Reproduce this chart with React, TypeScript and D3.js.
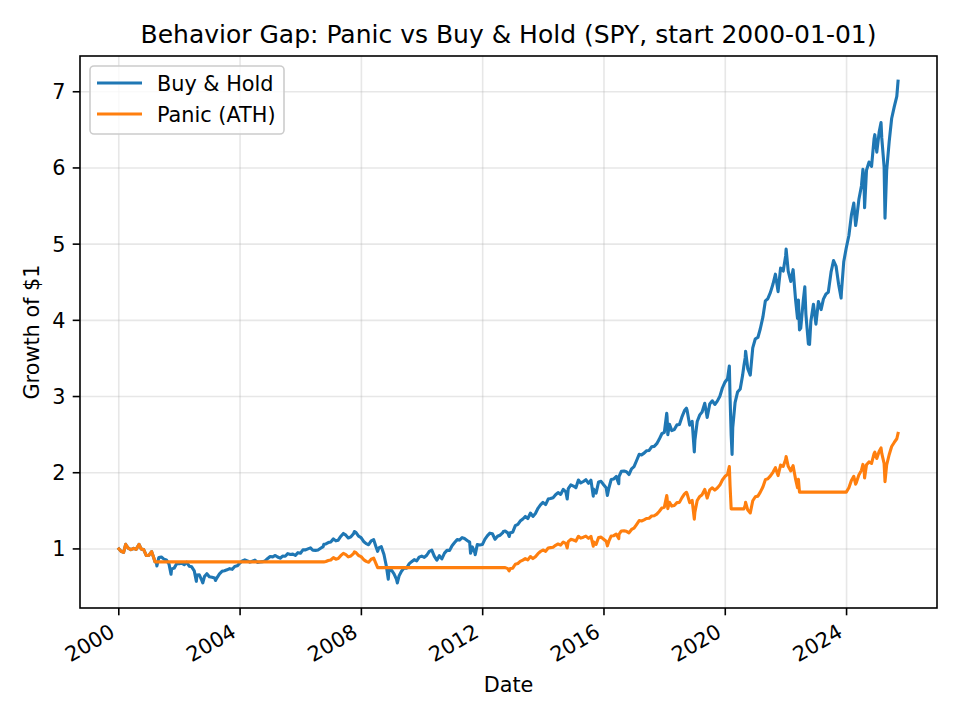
import * as d3 from "d3";

const WIDTH = 960;
const HEIGHT = 720;

// Trading dates (month ends plus a few turning points)
const dates = [
  // 2000
  "2000-01-03", "2000-01-28", "2000-02-28", "2000-03-24", "2000-03-31", "2000-04-28", "2000-05-26", "2000-06-28", "2000-07-28", "2000-09-01", "2000-09-28", "2000-10-27", "2000-11-28", "2000-12-28",
  // 2001
  "2001-01-30", "2001-02-27", "2001-03-12", "2001-03-28", "2001-04-04", "2001-04-27", "2001-05-28", "2001-06-28", "2001-07-27", "2001-08-28", "2001-09-21", "2001-09-28", "2001-10-29", "2001-11-28", "2001-12-28",
  // 2002
  "2002-01-28", "2002-02-28", "2002-03-28", "2002-04-29", "2002-05-28", "2002-06-28", "2002-07-23", "2002-07-30", "2002-08-28", "2002-09-27", "2002-10-09", "2002-10-29", "2002-11-27", "2002-12-27",
  // 2003
  "2003-01-28", "2003-02-28", "2003-03-11", "2003-03-28", "2003-04-28", "2003-05-28", "2003-06-27", "2003-07-28", "2003-08-28", "2003-09-29", "2003-10-28", "2003-11-28", "2003-12-29",
  // 2004
  "2004-01-28", "2004-02-27", "2004-03-29", "2004-04-28", "2004-05-28", "2004-06-28", "2004-07-28", "2004-08-27", "2004-09-28", "2004-10-28", "2004-11-29", "2004-12-28",
  // 2005
  "2005-01-28", "2005-02-28", "2005-03-28", "2005-04-28", "2005-05-27", "2005-06-28", "2005-07-28", "2005-08-29", "2005-09-28", "2005-10-28", "2005-11-28", "2005-12-28",
  // 2006
  "2006-01-27", "2006-02-28", "2006-03-28", "2006-04-28", "2006-05-26", "2006-06-28", "2006-07-28", "2006-08-28", "2006-09-28", "2006-10-05", "2006-10-30", "2006-11-28", "2006-12-28",
  // 2007
  "2007-01-29", "2007-02-28", "2007-03-28", "2007-04-27", "2007-05-29", "2007-06-28", "2007-07-27", "2007-08-28", "2007-09-28", "2007-10-09", "2007-10-29", "2007-11-28", "2007-12-28",
  // 2008
  "2008-01-28", "2008-02-28", "2008-03-28", "2008-04-28", "2008-05-28", "2008-06-27", "2008-07-15", "2008-07-28", "2008-08-28", "2008-09-29", "2008-10-28", "2008-11-20", "2008-11-28", "2008-12-29",
  // 2009
  "2009-01-28", "2009-02-27", "2009-03-09", "2009-03-30", "2009-04-28", "2009-05-28", "2009-06-29", "2009-07-28", "2009-08-28", "2009-09-28", "2009-10-28", "2009-11-27", "2009-12-28",
  // 2010
  "2010-01-28", "2010-02-26", "2010-03-29", "2010-04-28", "2010-05-28", "2010-06-28", "2010-07-28", "2010-08-27", "2010-09-28", "2010-10-28", "2010-11-29", "2010-12-28",
  // 2011
  "2011-01-28", "2011-02-28", "2011-03-28", "2011-04-28", "2011-05-27", "2011-06-28", "2011-07-28", "2011-08-08", "2011-08-29", "2011-09-28", "2011-10-03", "2011-10-28", "2011-11-28", "2011-12-28",
  // 2012
  "2012-01-27", "2012-02-28", "2012-03-28", "2012-04-27", "2012-05-29", "2012-06-28", "2012-07-27", "2012-08-28", "2012-09-06", "2012-09-28", "2012-10-29", "2012-11-15", "2012-11-28", "2012-12-28",
  // 2013
  "2013-01-28", "2013-02-28", "2013-03-28", "2013-04-29", "2013-05-28", "2013-06-28", "2013-07-29", "2013-08-28", "2013-09-27", "2013-10-28", "2013-11-27", "2013-12-27",
  // 2014
  "2014-01-28", "2014-02-28", "2014-03-28", "2014-04-28", "2014-05-28", "2014-06-27", "2014-07-28", "2014-08-28", "2014-09-29", "2014-10-15", "2014-10-28", "2014-11-28", "2014-12-29",
  // 2015
  "2015-01-28", "2015-02-27", "2015-03-27", "2015-04-28", "2015-05-28", "2015-06-29", "2015-07-28", "2015-08-25", "2015-08-28", "2015-09-28", "2015-10-28", "2015-11-27", "2015-12-28",
  // 2016
  "2016-01-28", "2016-02-11", "2016-02-29", "2016-03-28", "2016-04-28", "2016-05-27", "2016-06-27", "2016-06-30", "2016-07-28", "2016-08-29", "2016-09-28", "2016-10-28", "2016-11-28", "2016-12-28",
  // 2017
  "2017-01-27", "2017-02-28", "2017-03-28", "2017-04-28", "2017-05-26", "2017-06-28", "2017-07-28", "2017-08-28", "2017-09-28", "2017-10-27", "2017-11-28", "2017-12-28",
  // 2018
  "2018-01-26", "2018-01-30", "2018-02-08", "2018-02-28", "2018-03-28", "2018-04-27", "2018-05-29", "2018-06-28", "2018-07-27", "2018-08-28", "2018-09-20", "2018-09-28", "2018-10-29", "2018-11-28", "2018-12-24", "2018-12-31",
  // 2019
  "2019-01-28", "2019-02-28", "2019-03-28", "2019-04-29", "2019-05-28", "2019-06-28", "2019-07-29", "2019-08-28", "2019-09-27", "2019-10-28", "2019-11-27", "2019-12-27",
  // 2020
  "2020-01-28", "2020-02-19", "2020-02-28", "2020-03-12", "2020-03-23", "2020-03-31", "2020-04-28", "2020-05-28", "2020-06-29", "2020-07-28", "2020-08-12", "2020-08-28", "2020-09-02", "2020-09-28", "2020-10-28", "2020-11-27", "2020-12-28",
  // 2021
  "2021-01-28", "2021-02-26", "2021-03-29", "2021-04-28", "2021-05-28", "2021-06-28", "2021-07-28", "2021-08-27", "2021-09-28", "2021-10-28", "2021-11-29", "2021-12-28",
  // 2022
  "2022-01-03", "2022-01-28", "2022-02-28", "2022-03-28", "2022-04-28", "2022-05-20", "2022-05-31", "2022-06-13", "2022-06-28", "2022-07-28", "2022-08-16", "2022-08-29", "2022-09-28", "2022-10-12", "2022-10-28", "2022-11-28", "2022-12-28",
  // 2023
  "2023-01-27", "2023-02-28", "2023-03-28", "2023-04-28", "2023-05-26", "2023-06-28", "2023-07-28", "2023-08-28", "2023-09-28", "2023-10-27", "2023-10-31", "2023-11-28", "2023-12-28",
  // 2024
  "2024-01-29", "2024-02-28", "2024-03-28", "2024-04-19", "2024-04-29", "2024-05-28", "2024-06-28", "2024-07-16", "2024-07-29", "2024-08-05", "2024-08-28", "2024-09-27", "2024-10-28", "2024-11-27", "2024-12-06", "2024-12-30",
  // 2025
  "2025-01-28", "2025-02-19", "2025-02-28", "2025-03-28", "2025-04-08", "2025-04-28", "2025-05-28", "2025-06-27", "2025-07-28", "2025-08-28", "2025-09-12",
];

// Growth of $1, buy & hold
const buyHold = [
  1.0, 0.969, 0.954, 1.061, 1.044, 1.007, 0.991, 1.008, 0.994, 1.06, 0.997, 0.992, 0.913, 0.916,
  0.965, 0.878, 0.83, 0.824, 0.777, 0.886, 0.893, 0.866, 0.856, 0.801, 0.668, 0.737, 0.748, 0.806, 0.807,
  0.813, 0.792, 0.825, 0.774, 0.765, 0.712, 0.575, 0.658, 0.659, 0.588, 0.555, 0.637, 0.675, 0.634,
  0.629, 0.619, 0.586, 0.62, 0.673, 0.706, 0.714, 0.726, 0.741, 0.732, 0.769, 0.778, 0.815,
  0.843, 0.857, 0.843, 0.826, 0.839, 0.853, 0.824, 0.828, 0.833, 0.842, 0.875, 0.901,
  0.896, 0.914, 0.894, 0.878, 0.906, 0.904, 0.938, 0.926, 0.932, 0.916, 0.951, 0.944,
  0.987, 0.988, 1.001, 1.014, 0.983, 0.981, 0.986, 1.008, 1.03, 1.06, 1.066, 1.083, 1.092,
  1.132, 1.106, 1.115, 1.164, 1.203, 1.181, 1.144, 1.159, 1.198, 1.229, 1.214, 1.167, 1.148,
  1.098, 1.069, 1.055, 1.105, 1.121, 1.022, 0.968, 1.013, 1.029, 0.927, 0.773, 0.602, 0.716, 0.721,
  0.673, 0.601, 0.554, 0.646, 0.707, 0.748, 0.748, 0.803, 0.833, 0.859, 0.842, 0.893, 0.906,
  0.889, 0.917, 0.969, 0.984, 0.906, 0.852, 0.911, 0.869, 0.945, 0.981, 0.981, 1.042,
  1.084, 1.122, 1.116, 1.148, 1.136, 1.111, 1.089, 0.943, 1.026, 0.953, 0.925, 1.057, 1.052, 1.057,
  1.125, 1.174, 1.207, 1.199, 1.127, 1.166, 1.18, 1.21, 1.229, 1.234, 1.211, 1.163, 1.213, 1.22,
  1.305, 1.322, 1.366, 1.393, 1.426, 1.399, 1.471, 1.427, 1.465, 1.533, 1.578, 1.611,
  1.582, 1.654, 1.661, 1.672, 1.711, 1.74, 1.715, 1.782, 1.749, 1.655, 1.791, 1.84, 1.825,
  1.803, 1.905, 1.866, 1.885, 1.908, 1.861, 1.903, 1.693, 1.787, 1.732, 1.879, 1.887, 1.843,
  1.801, 1.701, 1.8, 1.911, 1.919, 1.951, 1.856, 1.948, 2.019, 2.022, 2.012, 1.977, 2.05, 2.079,
  2.157, 2.242, 2.234, 2.257, 2.288, 2.292, 2.34, 2.346, 2.381, 2.438, 2.512, 2.53,
  2.78, 2.734, 2.499, 2.635, 2.553, 2.566, 2.628, 2.632, 2.729, 2.816, 2.848, 2.82, 2.625, 2.674, 2.273, 2.424,
  2.672, 2.759, 2.797, 2.911, 2.725, 2.901, 2.944, 2.896, 2.94, 3.003, 3.112, 3.187,
  3.233, 3.4, 2.978, 2.493, 2.241, 2.591, 2.92, 3.058, 3.099, 3.281, 3.4, 3.51, 3.595, 3.366, 3.281, 3.639, 3.758,
  3.775, 3.89, 4.042, 4.256, 4.284, 4.367, 4.473, 4.606, 4.377, 4.685, 4.647, 4.845,
  4.935, 4.647, 4.51, 4.665, 4.256, 4.025, 4.265, 3.874, 3.898, 4.256, 4.439, 4.082, 3.69, 3.684, 3.989, 4.212, 3.95,
  4.248, 4.141, 4.278, 4.346, 4.368, 4.632, 4.784, 4.707, 4.467, 4.292, 4.37, 4.769, 4.95,
  5.114, 5.381, 5.54, 5.244, 5.316, 5.585, 5.763, 5.982, 5.833, 5.479, 5.97, 6.077, 6.021, 6.382, 6.437, 6.207,
  6.475, 6.595, 6.394, 6.019, 5.342, 5.966, 6.342, 6.649, 6.801, 6.94, 7.14,
];

// Growth of $1, panic seller who re-enters at a new all-time high
const panic = [
  1.0, 0.969, 0.954, 1.061, 1.044, 1.007, 0.991, 1.008, 0.994, 1.06, 0.997, 0.992, 0.913, 0.916,
  0.965, 0.878, 0.83, 0.83, 0.83, 0.83, 0.83, 0.83, 0.83, 0.83, 0.83, 0.83, 0.83, 0.83, 0.83,
  0.83, 0.83, 0.83, 0.83, 0.83, 0.83, 0.83, 0.83, 0.83, 0.83, 0.83, 0.83, 0.83, 0.83,
  0.83, 0.83, 0.83, 0.83, 0.83, 0.83, 0.83, 0.83, 0.83, 0.83, 0.83, 0.83, 0.83,
  0.83, 0.83, 0.83, 0.83, 0.83, 0.83, 0.83, 0.83, 0.83, 0.83, 0.83, 0.83,
  0.83, 0.83, 0.83, 0.83, 0.83, 0.83, 0.83, 0.83, 0.83, 0.83, 0.83, 0.83,
  0.83, 0.83, 0.83, 0.83, 0.83, 0.83, 0.83, 0.83, 0.83, 0.83, 0.835, 0.848, 0.855,
  0.886, 0.866, 0.873, 0.911, 0.942, 0.925, 0.896, 0.908, 0.938, 0.962, 0.951, 0.914, 0.899,
  0.86, 0.837, 0.826, 0.865, 0.878, 0.8, 0.755, 0.755, 0.755, 0.755, 0.755, 0.755, 0.755, 0.755,
  0.755, 0.755, 0.755, 0.755, 0.755, 0.755, 0.755, 0.755, 0.755, 0.755, 0.755, 0.755, 0.755,
  0.755, 0.755, 0.755, 0.755, 0.755, 0.755, 0.755, 0.755, 0.755, 0.755, 0.755, 0.755,
  0.755, 0.755, 0.755, 0.755, 0.755, 0.755, 0.755, 0.755, 0.755, 0.755, 0.755, 0.755, 0.755, 0.755,
  0.755, 0.755, 0.755, 0.755, 0.755, 0.755, 0.755, 0.755, 0.755, 0.755, 0.741, 0.712, 0.742, 0.747,
  0.799, 0.809, 0.836, 0.853, 0.873, 0.856, 0.9, 0.873, 0.897, 0.938, 0.966, 0.986,
  0.968, 1.012, 1.017, 1.023, 1.047, 1.065, 1.05, 1.091, 1.07, 1.013, 1.096, 1.126, 1.117,
  1.103, 1.166, 1.142, 1.154, 1.168, 1.139, 1.165, 1.036, 1.094, 1.06, 1.15, 1.155, 1.128,
  1.102, 1.041, 1.102, 1.17, 1.174, 1.194, 1.136, 1.192, 1.236, 1.237, 1.231, 1.21, 1.255, 1.272,
  1.32, 1.372, 1.367, 1.381, 1.4, 1.403, 1.432, 1.436, 1.457, 1.492, 1.537, 1.548,
  1.701, 1.673, 1.529, 1.613, 1.562, 1.57, 1.608, 1.611, 1.67, 1.723, 1.743, 1.726, 1.607, 1.637, 1.391, 1.483,
  1.635, 1.689, 1.712, 1.782, 1.668, 1.775, 1.802, 1.772, 1.799, 1.838, 1.905, 1.95,
  1.979, 2.081, 1.823, 1.525, 1.525, 1.525, 1.525, 1.525, 1.525, 1.525, 1.525, 1.574, 1.612, 1.51, 1.472, 1.632, 1.685,
  1.693, 1.745, 1.813, 1.909, 1.921, 1.959, 2.006, 2.066, 1.963, 2.101, 2.084, 2.173,
  2.213, 2.084, 2.023, 2.092, 1.909, 1.805, 1.913, 1.745, 1.745, 1.745, 1.745, 1.745, 1.745, 1.745, 1.745, 1.745, 1.745,
  1.745, 1.745, 1.745, 1.745, 1.745, 1.745, 1.745, 1.745, 1.745, 1.745, 1.745, 1.745, 1.745,
  1.803, 1.897, 1.953, 1.849, 1.874, 1.969, 2.031, 2.109, 2.056, 1.931, 2.104, 2.142, 2.122, 2.25, 2.269, 2.188,
  2.282, 2.325, 2.254, 2.122, 1.883, 2.103, 2.236, 2.344, 2.397, 2.446, 2.517,
];

const yTicks = [1, 2, 3, 4, 5, 6, 7];
const xTickYears = [2000, 2004, 2008, 2012, 2016, 2020, 2024];

const series = [
  { name: "Buy & Hold", values: buyHold, color: "#1f77b4" },
  { name: "Panic (ATH)", values: panic, color: "#ff7f0e" },
];

const margin = { top: 56, right: 23, bottom: 112, left: 80 };
const FONT = "DejaVu Sans, sans-serif";

export default function App() {
  const parse = d3.timeParse("%Y-%m-%d");
  const t = dates.map((d) => parse(d) as Date);

  const plotW = WIDTH - margin.left - margin.right;
  const plotH = HEIGHT - margin.top - margin.bottom;

  // matplotlib-style 5% margins
  const [t0, t1] = d3.extent(t) as [Date, Date];
  const tPad = (+t1 - +t0) * 0.05;
  const x = d3
    .scaleTime()
    .domain([new Date(+t0 - tPad), new Date(+t1 + tPad)])
    .range([margin.left, margin.left + plotW]);

  const all = buyHold.concat(panic);
  const vMin = d3.min(all) as number;
  const vMax = d3.max(all) as number;
  const vPad = (vMax - vMin) * 0.05;
  const y = d3
    .scaleLinear()
    .domain([vMin - vPad, vMax + vPad])
    .range([margin.top + plotH, margin.top]);

  const line = d3
    .line<number>()
    .x((_, i) => x(t[i]))
    .y((v) => y(v));

  const xTicks = xTickYears.map((yr) => new Date(yr, 0, 1));
  const bottom = margin.top + plotH;
  const right = margin.left + plotW;

  return (
    <svg width={WIDTH} height={HEIGHT} style={{ position: "absolute", left: 0, top: 0 }} fontFamily={FONT}>
      <rect width={WIDTH} height={HEIGHT} fill="#fff" />

      {/* grid */}
      <g stroke="#b0b0b0" strokeOpacity={0.3} strokeWidth={1.6}>
        {xTicks.map((d) => (
          <line key={+d} x1={x(d)} x2={x(d)} y1={margin.top} y2={bottom} />
        ))}
        {yTicks.map((v) => (
          <line key={v} x1={margin.left} x2={right} y1={y(v)} y2={y(v)} />
        ))}
      </g>

      {/* series */}
      <clipPath id="plot">
        <rect x={margin.left} y={margin.top} width={plotW} height={plotH} />
      </clipPath>
      <g clipPath="url(#plot)" fill="none" strokeWidth={3.1} strokeLinejoin="round" strokeLinecap="square">
        {series.map((s) => (
          <path key={s.name} d={line(s.values) as string} stroke={s.color} />
        ))}
      </g>

      {/* frame */}
      <rect x={margin.left} y={margin.top} width={plotW} height={plotH} fill="none" stroke="#000" strokeWidth={1.6} />

      {/* x axis */}
      {xTicks.map((d) => (
        <g key={+d}>
          <line x1={x(d)} x2={x(d)} y1={bottom} y2={bottom + 7.3} stroke="#000" strokeWidth={1.6} />
          <text
            transform={`translate(${x(d) - 2.5},${bottom + 28}) rotate(-30)`}
            textAnchor="end"
            fontSize={20.8}
          >
            {d3.timeFormat("%Y")(d)}
          </text>
        </g>
      ))}

      {/* y axis */}
      {yTicks.map((v) => (
        <g key={v}>
          <line x1={margin.left - 7.3} x2={margin.left} y1={y(v)} y2={y(v)} stroke="#000" strokeWidth={1.6} />
          <text x={margin.left - 14.6} y={y(v)} dy="0.36em" textAnchor="end" fontSize={20.8}>
            {v}
          </text>
        </g>
      ))}

      {/* labels */}
      <text x={(margin.left + right) / 2} y={43} textAnchor="middle" fontSize={25}>
        Behavior Gap: Panic vs Buy &amp; Hold (SPY, start 2000-01-01)
      </text>
      <text x={(margin.left + right) / 2} y={692} textAnchor="middle" fontSize={20.8}>
        Date
      </text>
      <text transform={`translate(39,${(margin.top + bottom) / 2}) rotate(-90)`} textAnchor="middle" fontSize={20.8}>
        Growth of $1
      </text>

      {/* legend */}
      <g>
        <rect x={90} y={66} width={194} height={68} rx={4} fill="#fff" fillOpacity={0.8} stroke="#cccccc" strokeWidth={1.6} />
        {series.map((s, i) => (
          <g key={s.name} transform={`translate(0,${83 + i * 31})`}>
            <line x1={97} x2={142} y1={0} y2={0} stroke={s.color} strokeWidth={3.1} />
            <text x={157} y={0} dy="0.36em" fontSize={20.8}>
              {s.name}
            </text>
          </g>
        ))}
      </g>
    </svg>
  );
}
